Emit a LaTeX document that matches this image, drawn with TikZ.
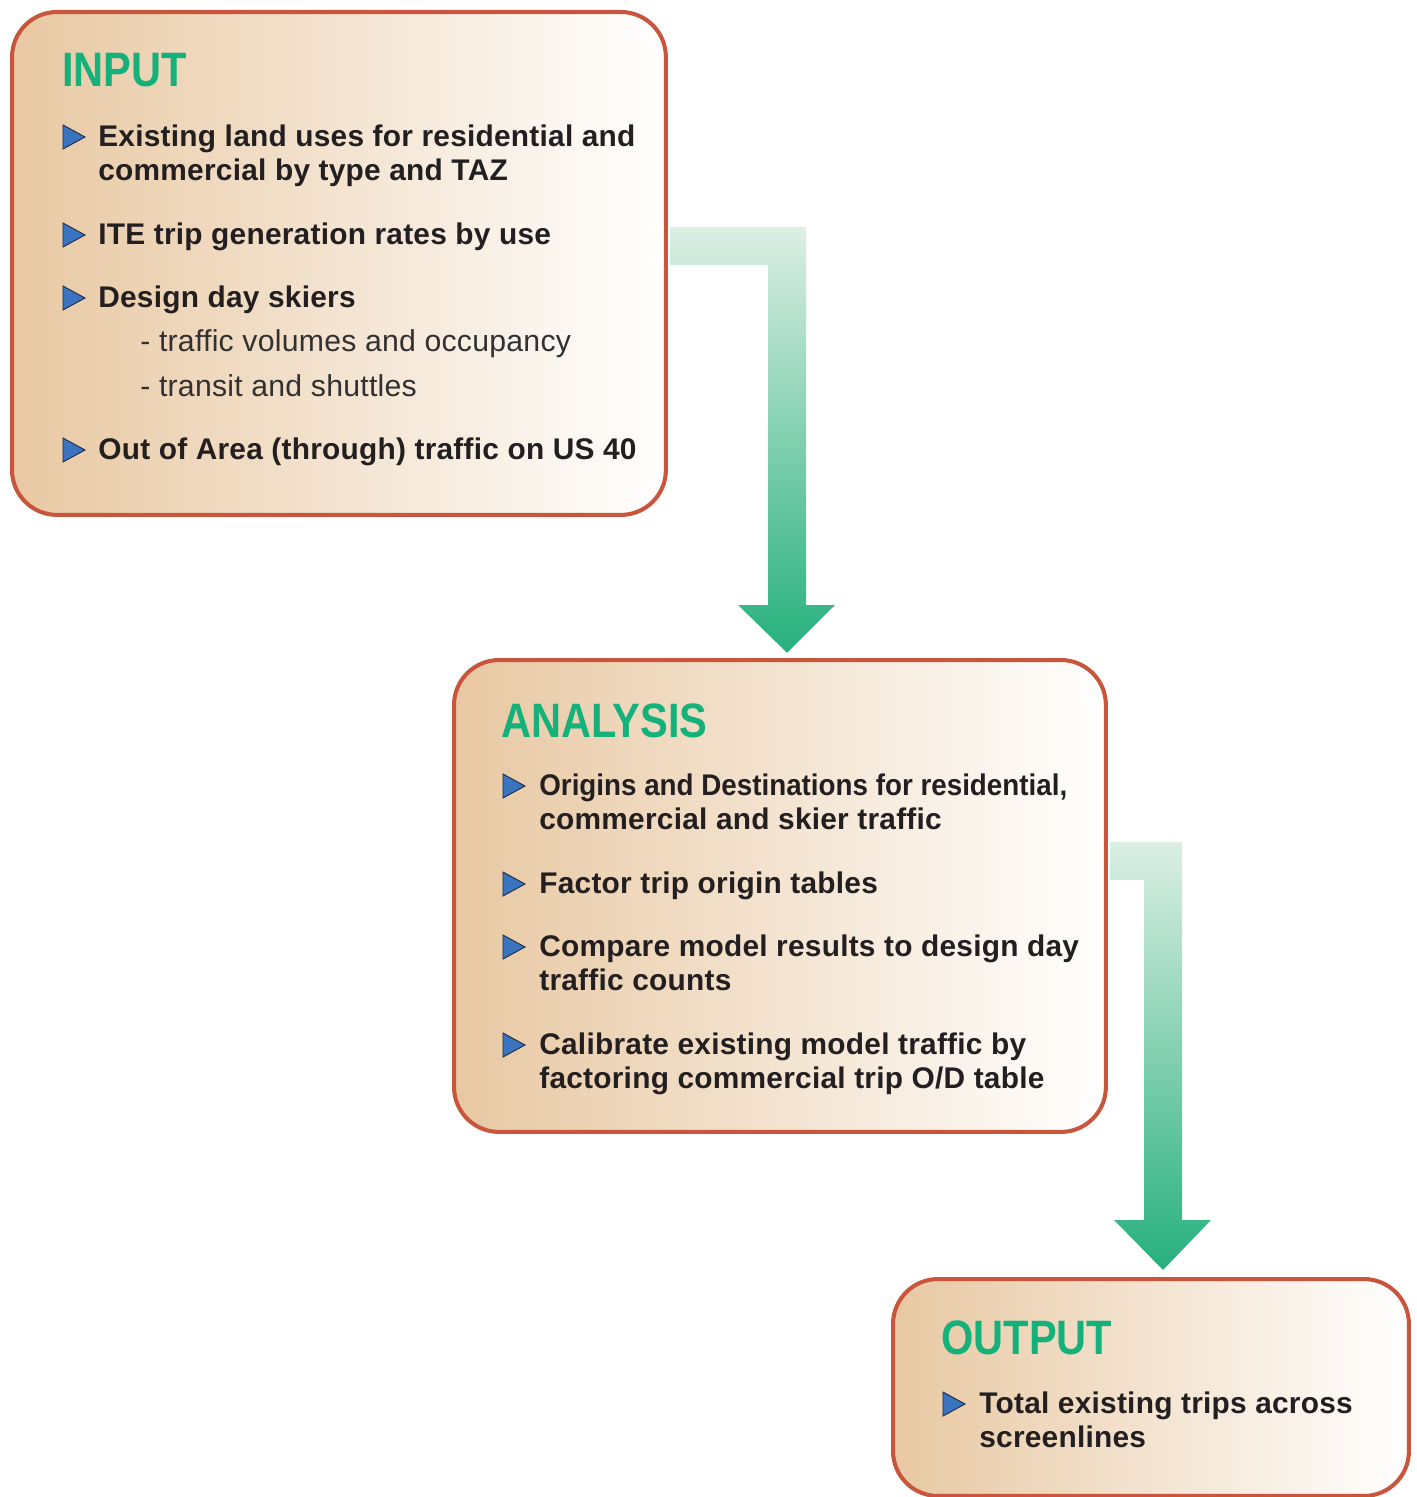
\documentclass[tikz,border=0pt]{standalone}
\usepackage{fontspec}
\setmainfont[LetterSpace=0.8]{Liberation Sans}
\newfontfamily\titlefont[FakeStretch=0.86]{Liberation Sans}
\newfontfamily\narrowfont[FakeStretch=0.93]{Liberation Sans}
\usepackage{xcolor}

\definecolor{boxline}{RGB}{201,85,60}
\definecolor{boxtan}{RGB}{232,200,162}
\definecolor{titlegreen}{RGB}{20,178,122}
\definecolor{textdark}{RGB}{35,31,32}
\definecolor{textgray}{RGB}{50,48,48}
\definecolor{bulletblue}{RGB}{58,116,190}
\definecolor{bulletedge}{RGB}{30,40,64}
\definecolor{arrowlight}{RGB}{220,239,228}
\definecolor{arrowdark}{RGB}{38,176,125}

\tikzset{
  stagebox/.style={draw=boxline, line width=2.3pt, rounded corners=0.9cm,
    left color=boxtan, right color=white, anchor=north west, inner sep=0pt},
  stagetitle/.style={anchor=base west, inner sep=0pt, text=titlegreen,
    font=\titlefont\bfseries\fontsize{27.5pt}{30pt}\selectfont},
  itemtext/.style={anchor=base west, inner sep=0pt, align=left, text=textdark,
    font=\bfseries\fontsize{17pt}{19.35pt}\selectfont},
  subtext/.style={anchor=base west, inner sep=0pt, text=textgray,
    font=\fontsize{17.2pt}{19.35pt}\selectfont},
  bulletmark/.style={fill=bulletblue, draw=bulletedge, line width=0.5pt},
  flowarrow/.style={top color=arrowlight, bottom color=arrowdark}
}

% blue triangle in front of an item, centred on y
\newcommand{\pointer}[2]{\draw[bulletmark] (#1,#2-12) -- (#1+22,#2) -- (#1,#2+12) -- cycle;}

\begin{document}
\begin{tikzpicture}[x=0.02cm, y=-0.02cm]
    \useasboundingbox (0,0) rectangle (1416,1497);

    % The three boxes
    \node[stagebox, minimum width=13.08cm, minimum height=10.06cm] (input) at (10,10) {};
    \node[stagebox, minimum width=13.04cm, minimum height=9.44cm] (analysis) at (452,658) {};
    \node[stagebox, minimum width=10.32cm, minimum height=4.34cm] (output) at (891,1277) {};

    % Arrow from INPUT to ANALYSIS
    \shade[flowarrow] ([xshift=1.1pt]input.east |- 0,227) -- (806,227) -- (806,605) -- (835,605)
        -- ([yshift=3pt]analysis.north -| 787,0) -- (738,605) -- (768,605) -- (768,265)
        -- ([xshift=1.1pt]input.east |- 0,265) -- cycle;

    % Arrow from ANALYSIS to OUTPUT
    \shade[flowarrow] ([xshift=1.1pt]analysis.east |- 0,842) -- (1182,842) -- (1182,1220) -- (1211,1220)
        -- ([yshift=4pt]output.north -| 1163,0) -- (1114,1220) -- (1144,1220) -- (1144,880)
        -- ([xshift=1.1pt]analysis.east |- 0,880) -- cycle;

    % INPUT (two-line items sit on their last line)
    \node[stagetitle] (intitle) at (62,87) {INPUT};
    \pointer{63}{137}
    \node[itemtext] (in1) at (98,180) {Existing land uses for residential and\\commercial by type and TAZ};
    \pointer{63}{235}
    \node[itemtext] (in2) at (98,244) {ITE trip generation rates by use};
    \pointer{63}{298}
    \node[itemtext] (in3) at (98,307) {Design day skiers};
    \node[subtext] (in3a) at (140,351) {- traffic volumes and occupancy};
    \node[subtext] (in3b) at (140,396) {- transit and shuttles};
    \pointer{63}{450}
    \node[itemtext] (in4) at (98,459) {Out of Area (through) traffic on US 40};

    % ANALYSIS
    \node[stagetitle] (antitle) at (501,737) {ANALYSIS};
    \pointer{503}{786}
    \node[itemtext] (an1) at (539,829) {{\narrowfont Origins and Destinations for residential,}\\commercial and skier traffic};
    \pointer{503}{884}
    \node[itemtext] (an2) at (539,893) {Factor trip origin tables};
    \pointer{503}{947}
    \node[itemtext] (an3) at (539,990) {Compare model results to design day\\traffic counts};
    \pointer{503}{1045}
    \node[itemtext] (an4) at (539,1088) {Calibrate existing model traffic by\\factoring commercial trip O/D table};

    % OUTPUT
    \node[stagetitle] (outtitle) at (941,1354) {OUTPUT};
    \pointer{943}{1404}
    \node[itemtext] (out1) at (979,1447) {Total existing trips across\\screenlines};
\end{tikzpicture}
\end{document}
